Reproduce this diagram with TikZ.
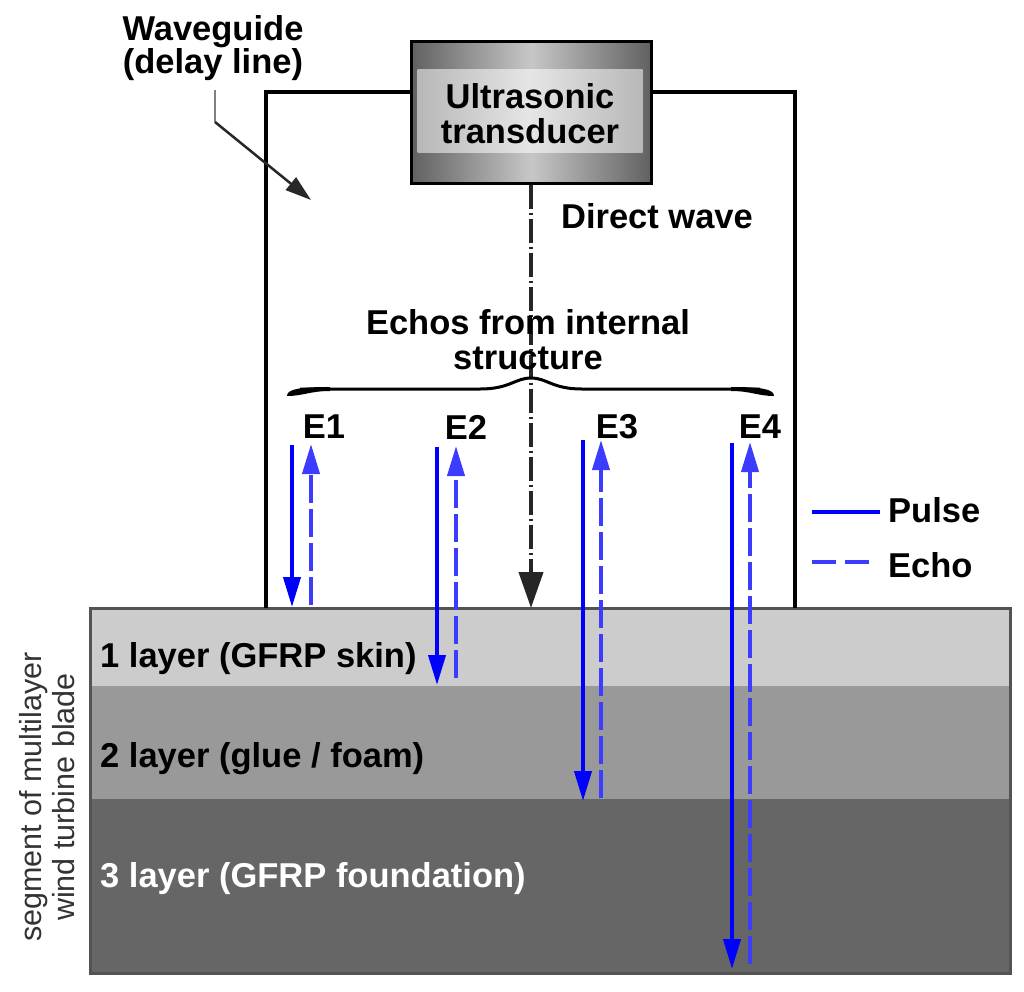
\documentclass[tikz,border=0pt]{standalone}
\usepackage{fontspec}
\setmainfont{Liberation Sans}
\usetikzlibrary{arrows.meta}
\definecolor{pulseblue}{RGB}{0,0,255}
\definecolor{echoblue}{RGB}{60,60,255}
\definecolor{layerA}{RGB}{204,204,204}
\definecolor{layerB}{RGB}{153,153,153}
\definecolor{layerC}{RGB}{102,102,102}
\definecolor{darkline}{RGB}{40,40,40}
\begin{document}
\begin{tikzpicture}[x=1pt,y=-1pt,
  lbl/.style={font=\fontsize{34.5}{35}\selectfont\bfseries, inner sep=0pt, align=center},
  pulsearrow/.style={draw=pulseblue, line width=4pt, -{Triangle[length=30pt,width=17pt]}},
  echoarrow/.style={draw=echoblue, line width=4pt, dash pattern=on 28pt off 6pt, -{Triangle[length=30pt,width=17pt]}},
  wall/.style={draw=black, line width=3.5pt},
]
\useasboundingbox (0,0) rectangle (1024,991);

% layers of the blade
\fill[layerA] (90,608) rectangle (1010,686);
\fill[layerB] (90,686) rectangle (1010,799);
\fill[layerC] (90,799) rectangle (1010,973);
\draw[draw=darkline!80, line width=3pt] (90,608) rectangle (1010,973);

\node[lbl, anchor=base west] (L1) at (100,667) {1 layer (GFRP skin)};
\node[lbl, anchor=base west] (L2) at (100,767) {2 layer (glue / foam)};
\node[lbl, anchor=base west, text=white] (L3) at (100,887) {3 layer (GFRP foundation)};

\node[font=\fontsize{30.5}{33}\selectfont, text=black!80, rotate=90, align=center, inner sep=0pt] (seg) at (47,797) {segment of multilayer\\wind turbine blade};

% waveguide walls
\draw[wall] (266,608) -- (266,92) -- (411,92);
\draw[wall] (651,92) -- (795,92) -- (795,608);

% transducer
\node[draw=black, line width=3pt, minimum width=240pt, minimum height=142pt, inner sep=0pt,
      left color=black!62, right color=black!62, middle color=black!22] (tr) at (531,112) {};
\node[minimum width=225pt, minimum height=83pt, inner sep=0pt,
      left color=black!28, right color=black!28, middle color=black!10] (trin) at (530,111) {};
\node[lbl] (trtext) at (530,114) {Ultrasonic\\transducer};

% waveguide label
\node[lbl, anchor=base] (wg) at (213,40) {Waveguide};
\node[lbl, anchor=base] (wg2) at (213,73) {(delay line)};
\coordinate (wgA) at (215,90);
\coordinate (wgB) at (215,122);
\coordinate (wgTip) at (311,200);
\draw[black!50, line width=2.5pt] (wgA) -- (wgB);
\draw[darkline, line width=2.5pt, -{Triangle[length=26pt,width=16pt]}] (wgB) -- (wgTip);

% direct wave
\coordinate (dwBot) at (531,608);
\draw[black!85, line width=4pt, dash pattern=on 24pt off 4pt on 2pt off 4pt, -{Triangle[length=36pt,width=24pt]}] (tr.south) -- (dwBot);
\node[lbl, anchor=base] (dw) at (657,228) {Direct wave};

% echos label and brace
\node[lbl] (ech) at (528,340) {Echos from internal\\structure};
\draw[black, line width=3pt] (300,389) -- (480,389) .. controls (510,389) and (515,378) .. (531,378)
  .. controls (547,378) and (552,389) .. (582,389) -- (760,389);
\fill[black] (287,396) .. controls (287,389) and (300,387) .. (330,387) -- (330,391) .. controls (310,391) and (303,396) .. cycle;
\fill[black] (774,396) .. controls (774,389) and (761,387) .. (731,387) -- (731,391) .. controls (751,391) and (758,396) .. cycle;

\node[lbl] (E1) at (324,427) {E1};
\node[lbl] (E2) at (466,427) {E2};
\node[lbl] (E3) at (617,427) {E3};
\node[lbl] (E4) at (760,427) {E4};

% pulse / echo arrows
\coordinate (p1a) at (292,445); \coordinate (p1b) at (292,607);
\coordinate (e1a) at (311,605); \coordinate (e1b) at (311,444);
\coordinate (p2a) at (437,447); \coordinate (p2b) at (437,685);
\coordinate (e2a) at (456,678); \coordinate (e2b) at (456,446);
\coordinate (p3a) at (583,440); \coordinate (p3b) at (583,801);
\coordinate (e3a) at (601,798); \coordinate (e3b) at (601,440);
\coordinate (p4a) at (732,443); \coordinate (p4b) at (732,969);
\coordinate (e4a) at (750,964); \coordinate (e4b) at (750,442);
\foreach \i in {1,2,3,4}{
  \draw[pulsearrow] (p\i a) -- (p\i b);
  \draw[echoarrow] (e\i a) -- (e\i b);
}

% legend
\coordinate (lp1) at (812,512); \coordinate (lp2) at (880,512);
\coordinate (le1) at (812,562); \coordinate (le2) at (876,562);
\draw[pulseblue, line width=4pt] (lp1) -- (lp2);
\draw[echoblue, line width=4pt, dash pattern=on 24pt off 9pt] (le1) -- (le2);
\node[lbl, anchor=base west] (lpt) at (888,522) {Pulse};
\node[lbl, anchor=base west] (let) at (888,577) {Echo};
\end{tikzpicture}
\end{document}
